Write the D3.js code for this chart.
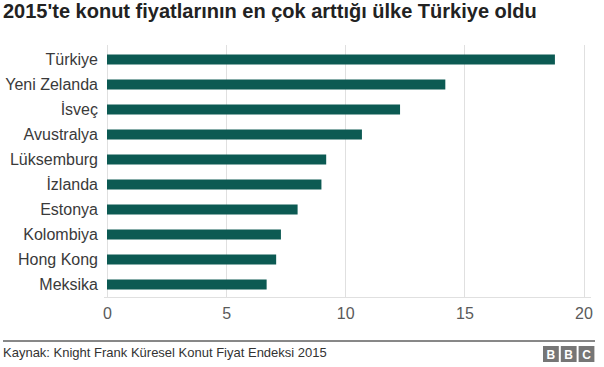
<!DOCTYPE html>
<html>
<head>
<meta charset="utf-8">
<script src="https://cdn.jsdelivr.net/npm/d3@7"></script>
<style>
  body { margin: 0; background: #fff; }
  text { font-family: "Liberation Sans", Arial, sans-serif; }
</style>
</head>
<body>
<script>
  /* DATA */
  var countries = ["Türkiye", "Yeni Zelanda", "İsveç", "Avustralya", "Lüksemburg",
    "İzlanda", "Estonya", "Kolombiya", "Hong Kong", "Meksika"];
  var rises = [18.8, 14.2, 12.3, 10.7, 9.2, 9.0, 8.0, 7.3, 7.1, 6.7];
  var xTicks = [0, 5, 10, 15, 20];
  var titleText = "2015'te konut fiyatlarının en çok arttığı ülke Türkiye oldu";
  var sourceText = "Kaynak: Knight Frank Küresel Konut Fiyat Endeksi 2015";
  var logoLetters = ["B", "B", "C"];

  var width = 604;
  var height = 367;

  var svg = d3.select("body")
    .append("svg")
    .attr("width", width)
    .attr("height", height);

  var xScale = d3.scaleLinear()
    .domain([0, 20])
    .range([107, 583.5]);

  var yScale = d3.scaleBand()
    .domain(countries)
    .range([47, 297])
    .paddingInner(0.6)
    .paddingOuter(0.3);

  // title
  svg.append("text")
    .attr("x", 3)
    .attr("y", 17.5)
    .attr("font-size", 20)
    .attr("font-weight", "bold")
    .attr("fill", "#222")
    .text(titleText);

  // gridlines
  svg.selectAll("line.grid")
    .data(xTicks)
    .enter()
    .append("line")
    .attr("class", "grid")
    .attr("x1", function(d) { return Math.round(xScale(d)) + 0.5; })
    .attr("x2", function(d) { return Math.round(xScale(d)) + 0.5; })
    .attr("y1", 45)
    .attr("y2", 297)
    .attr("stroke", "#e0e0e0")
    .attr("stroke-width", 1);

  svg.append("line")
    .attr("x1", 104)
    .attr("x2", 591)
    .attr("y1", 297.5)
    .attr("y2", 297.5)
    .attr("stroke", "#e0e0e0");

  // bars
  svg.selectAll("rect.bar")
    .data(countries)
    .enter()
    .append("rect")
    .attr("class", "bar")
    .attr("x", xScale(0))
    .attr("y", function(d) { return yScale(d); })
    .attr("width", function(d, i) { return xScale(rises[i]) - xScale(0); })
    .attr("height", yScale.bandwidth())
    .attr("fill", "#0c5a53");

  // category labels
  svg.selectAll("text.name")
    .data(countries)
    .enter()
    .append("text")
    .attr("class", "name")
    .attr("x", 98)
    .attr("y", function(d) { return yScale(d) + yScale.bandwidth() / 2; })
    .attr("dy", "0.36em")
    .attr("text-anchor", "end")
    .attr("font-size", 16)
    .attr("fill", "#3a3a3a")
    .text(function(d) { return d; });

  // x axis labels
  var xAxis = svg.append("g")
    .attr("transform", "translate(0, 297)")
    .call(d3.axisBottom(xScale).tickValues(xTicks).tickSize(0).tickPadding(11));
  xAxis.select(".domain").remove();
  xAxis.selectAll("text")
    .attr("font-size", 16)
    .attr("font-family", "\"Liberation Sans\", Arial, sans-serif")
    .attr("fill", "#5a5a5a");

  // footer
  svg.append("line")
    .attr("x1", 3)
    .attr("x2", 595)
    .attr("y1", 341)
    .attr("y2", 341)
    .attr("stroke", "#111")
    .attr("stroke-width", 1);

  svg.append("text")
    .attr("x", 3)
    .attr("y", 357)
    .attr("font-size", 13)
    .attr("fill", "#333")
    .text(sourceText);

  var logo = svg.append("g").attr("transform", "translate(543, 346)");
  logoLetters.forEach(function(l, i) {
    logo.append("rect")
      .attr("x", i * 17.8)
      .attr("y", 0)
      .attr("width", 15.8)
      .attr("height", 16)
      .attr("fill", "#767676");
    logo.append("text")
      .attr("x", i * 17.8 + 7.9)
      .attr("y", 12.5)
      .attr("text-anchor", "middle")
      .attr("font-size", 12)
      .attr("font-weight", "bold")
      .attr("fill", "#fff")
      .text(l);
  });
</script>
</body>
</html>
